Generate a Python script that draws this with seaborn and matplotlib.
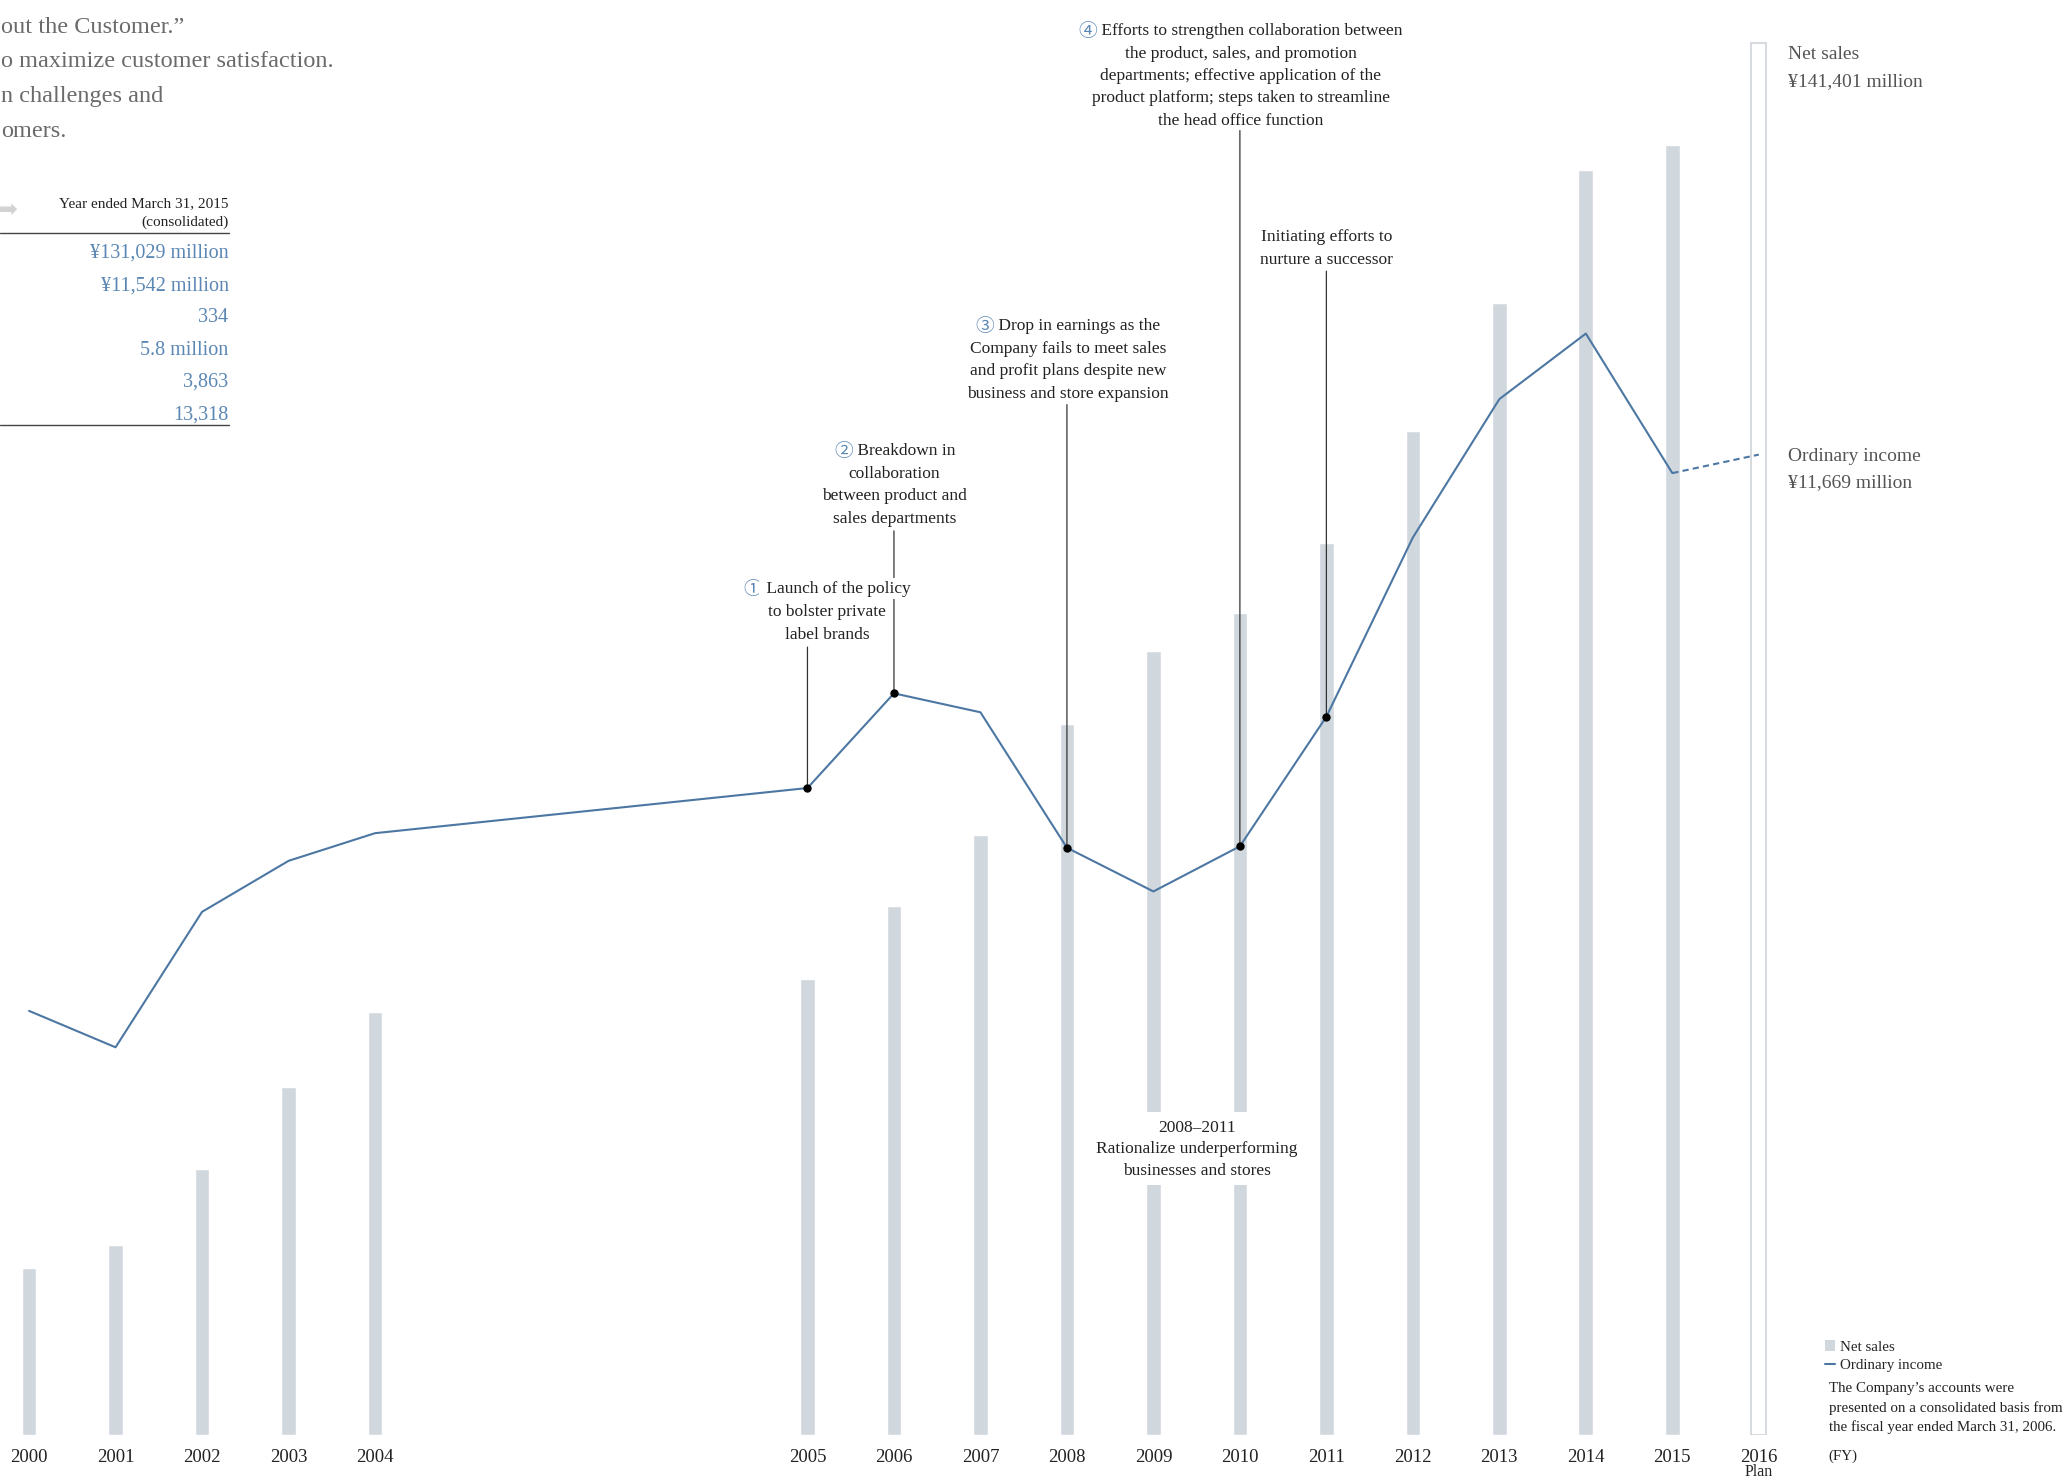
import matplotlib
matplotlib.use('Agg')
import matplotlib.pyplot as plt
import seaborn as sns
from matplotlib.patches import Patch, Rectangle
from matplotlib.lines import Line2D

# data (yen, millions)
fiscal_years = [2000, 2001, 2002, 2003, 2004, 2005, 2006, 2007,
                2008, 2009, 2010, 2011, 2012, 2013, 2014, 2015]
net_sales = [16900, 19330, 26980, 35310, 42960, 46320, 53700, 60950,
             72230, 79610, 83500, 90620, 102030, 115050, 128480, 131029]
ordinary_income = [7850, 7600, 8530, 8880, 9070, 9380, 10030, 9900,
                   8970, 8670, 8980, 9870, 11100, 12050, 12500, 11542]
plan_year = 2016
plan_sales = 141401
plan_income = 11669

table_values = ['¥131,029 million', '¥11,542 million', '334',
                '5.8 million', '3,863', '13,318']
# intro text is cut by the left page edge in the original
intro_lines = ['out the Customer.”', 'o maximize customer satisfaction.',
               'n challenges and', 'omers.']

GAP = 4  # empty slots between 2004 and 2005


def slot(year):
    return year - 2000 + (GAP if year >= 2005 else 0)


BAR = '#d0d8de'
LINE = '#4d77a3'
BLUE = '#5b87b5'
TXT = '#222222'
GREY = '#555555'

sns.set_style('white')
plt.rcParams['font.family'] = ['Liberation Serif', 'DejaVu Sans', 'Noto Sans CJK JP']

fig = plt.figure(figsize=(20.72, 14.81), dpi=100)
W, H = 1568, 1121  # layout units of the reference


def fx(x):
    return x / W


def fy(y):
    return 1 - y / H


base = 1086
ax = fig.add_axes([0, fy(base), 1, 1 - fy(base)])
xs = [slot(y) for y in fiscal_years]

sns.barplot(x=xs, y=net_sales, native_scale=True, color=BAR, width=0.17,
            saturation=1, ax=ax, zorder=1)
sns.barplot(x=[slot(plan_year)], y=[plan_sales], native_scale=True, color='white',
            width=0.17, saturation=1, edgecolor='#cfd4d9', linewidth=1.2, ax=ax, zorder=1)

ax.set_xlim(-22 / 65.45, (W - 22) / 65.45)
ax.set_ylim(0, base * 134.25)
ticks = xs + [slot(plan_year)]
labels = [str(y) for y in fiscal_years] + [str(plan_year)]
ax.set_xticks(ticks, labels)
ax.tick_params(axis='x', length=0, pad=10, labelsize=13.5, labelcolor=TXT)
ax.set_yticks([])
ax.set_xlabel('')
ax.set_ylabel('')
sns.despine(ax=ax, left=True, bottom=True)
fig.text(fx(22 + slot(plan_year) * 65.45), fy(1120), 'Plan', fontsize=11.5, color=TXT,
         ha='center', va='bottom')

ax2 = ax.twinx()
sns.lineplot(x=xs, y=ordinary_income, color=LINE, lw=1.5, ax=ax2)
ax2.plot([slot(fiscal_years[-1]), slot(plan_year)], [ordinary_income[-1], plan_income],
         color=LINE, lw=1.5, ls=(0, (3, 2)))
ax2.set_ylim(4940, 4940 + base * 9.07)
ax2.set_yticks([])
ax2.set_ylabel('')
sns.despine(ax=ax2, left=True, bottom=True, right=True)

# leader lines from the line up to the notes (top as axes fraction)
leaders = [(2005, 0.549), (2006, 0.630), (2008, 0.718), (2010, 0.909), (2011, 0.811)]
for yr, top in leaders:
    v = ordinary_income[fiscal_years.index(yr)]
    ax2.annotate('', xy=(slot(yr), v), xytext=(slot(yr), top),
                 textcoords=('data', 'axes fraction'),
                 arrowprops=dict(arrowstyle='-', color='#333333', lw=0.9,
                                 shrinkA=0, shrinkB=0))
    ax2.plot(slot(yr), v, 'o', color='black', ms=5, zorder=5)

renderer = fig.canvas.get_renderer()


def note(cx, y0, step, lines, num=None, size=12.5, white=False):
    for i, s in enumerate(lines):
        y = fy(y0 + i * step)
        box = dict(facecolor='white', edgecolor='none', pad=2) if white else None
        if i == 0 and num:
            tn = fig.text(0, y, num, color=BLUE, ha='left', va='center_baseline',
                          fontsize=size + 1, family=['Noto Sans CJK JP', 'DejaVu Sans'],
                          bbox=box)
            tl = fig.text(0, y, ' ' + s, color=TXT, ha='left', va='center_baseline',
                          fontsize=size, bbox=box)
            w1 = tn.get_window_extent(renderer).width / fig.bbox.width
            w2 = tl.get_window_extent(renderer).width / fig.bbox.width
            x0 = fx(cx) - (w1 + w2) / 2
            tn.set_x(x0)
            tl.set_x(x0 + w1)
        else:
            fig.text(fx(cx), y, s, color=TXT, ha='center', va='center_baseline',
                     fontsize=size, bbox=box)


note(939, 22, 17, ['Efforts to strengthen collaboration between',
                   'the product, sales, and promotion',
                   'departments; effective application of the',
                   'product platform; steps taken to streamline',
                   'the head office function'], num='④')
note(1004, 178, 17.3, ['Initiating efforts to', 'nurture a successor'])
note(808, 245, 17.3, ['Drop in earnings as the', 'Company fails to meet sales',
                      'and profit plans despite new', 'business and store expansion'], num='③')
note(677, 340, 17.1, ['Breakdown in', 'collaboration', 'between product and',
                      'sales departments'], num='②')
note(626, 444, 17.5, ['Launch of the policy', 'to bolster private', 'label brands'],
     num='①', white=True)

# break in the 2009/2010 bars behind the rationalisation note
fig.add_artist(Rectangle((fx(838), fy(897)), (975 - 838) / W, (897 - 842) / H,
                         transform=fig.transFigure, facecolor='white',
                         edgecolor='none', zorder=1))
note(906, 852, 16.5, ['2008–2011', 'Rationalize underperforming', 'businesses and stores'])

# right-hand labels
for y, s in [(40, 'Net sales'), (60, f'¥{plan_sales:,} million'),
             (344, 'Ordinary income'), (364, f'¥{plan_income:,} million')]:
    fig.text(fx(1353), fy(y), s, fontsize=14, color=GREY, va='center_baseline')

# legend and footnote
handles = [Patch(facecolor=BAR, edgecolor='none'), Line2D([], [], color=LINE, lw=1.5)]
fig.legend(handles, ['Net sales', 'Ordinary income'], loc='upper left',
           bbox_to_anchor=(fx(1381), fy(1014)), frameon=False, fontsize=10.8,
           handlelength=0.7, handleheight=0.8, handletextpad=0.3, labelspacing=0.3,
           borderpad=0, borderaxespad=0)
for i, s in enumerate(['The Company’s accounts were',
                       'presented on a consolidated basis from',
                       'the fiscal year ended March 31, 2006.']):
    fig.text(fx(1384), fy(1050 + i * 14.5), s, fontsize=10.8, color=TXT, va='center_baseline')
fig.text(fx(1384), fy(1101), '(FY)', fontsize=10.8, color=TXT, va='center_baseline')

# cropped intro text and summary table on the left
for y, s in zip([19, 45, 71, 98], intro_lines):
    fig.text(fx(0.5), fy(y), s, fontsize=17.5, color='#6b6b6b', ha='left',
             va='center_baseline')

fig.text(fx(13), fy(157), '➡', fontsize=17, color='#d3d3d3', ha='right',
         va='center_baseline', family=['DejaVu Sans'])
fig.text(fx(173), fy(153), 'Year ended March 31, 2015', fontsize=11, color=TXT,
         ha='right', va='center_baseline')
fig.text(fx(173), fy(167), '(consolidated)', fontsize=11, color=TXT,
         ha='right', va='center_baseline')
fig.add_artist(Line2D([0, fx(173)], [fy(176), fy(176)], transform=fig.transFigure,
                      color='#444444', lw=1))
for i, s in enumerate(table_values):
    fig.text(fx(173), fy(190 + i * 24.4), s, fontsize=14.5, color=BLUE,
             ha='right', va='center_baseline')
fig.add_artist(Line2D([0, fx(173)], [fy(322), fy(322)], transform=fig.transFigure,
                      color='#444444', lw=1))

fig.savefig('out.png', dpi=100)
